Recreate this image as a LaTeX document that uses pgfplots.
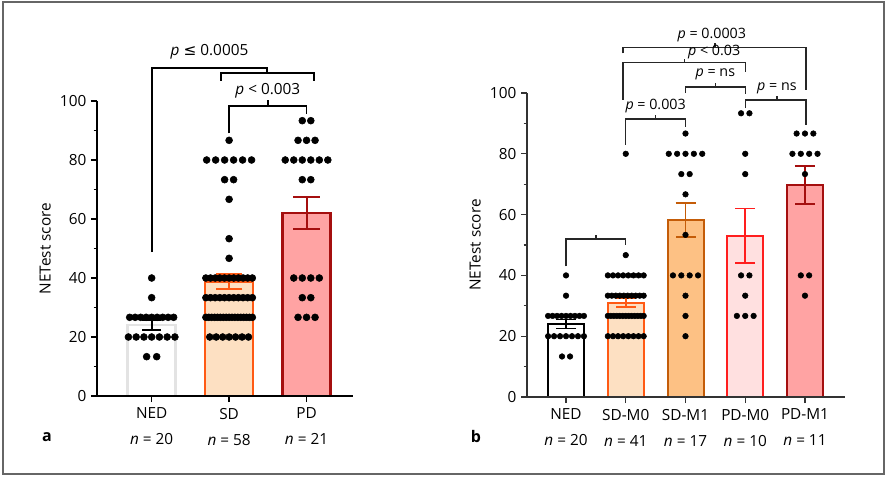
\documentclass[border=0pt]{standalone}
\usepackage{pgfplots}
\pgfplotsset{compat=1.18}
\usepackage{fontspec}
\setmainfont{Open Sans}
\newfontfamily\dejavu{DejaVu Sans}
\definecolor{sdfill}{HTML}{FDE0C2}
\definecolor{sdline}{HTML}{FF5A14}
\definecolor{pdfill}{HTML}{FFA3A3}
\definecolor{pdline}{HTML}{A50F0F}
\definecolor{nedline}{HTML}{E3E3E3}
\definecolor{smfill}{HTML}{FDC184}
\definecolor{smline}{HTML}{C45C08}
\definecolor{pmfill}{HTML}{FFE0E0}
\definecolor{pmline}{HTML}{FF1E1E}
\pgfplotsset{
  panel/.style={
    scale only axis, anchor=south west, clip=false, axis on top,
    axis lines*=left, ymin=0, ymax=100,
    ytick={0,20,...,100}, minor ytick={10,30,...,90},
    tick align=outside, major tick length=4.5pt, minor tick length=2.5pt,
    yticklabel style={font=\fontsize{11.5}{14}\selectfont},
    xticklabel style={align=center, font=\fontsize{11.5}{14}\selectfont, yshift=-1pt},
    ylabel={NETest score}, ylabel style={font=\fontsize{11.5}{14}\selectfont},
    /pgf/number format/assume math mode=true,
  },
}
\tikzset{ptext/.style={font=\fontsize{11.5}{14}\selectfont},
         ptextb/.style={font=\fontsize{10.7}{13}\selectfont}}
\begin{document}
\begin{tikzpicture}
\useasboundingbox (0,0) rectangle (666pt,357pt);
\draw[black!60, line width=1.1pt] (2.25pt,1.5pt) rectangle (663pt,355.5pt);
\node[font=\fontsize{12}{14}\selectfont\bfseries] at (35.25pt,29.5pt) {a};
\node[font=\fontsize{12}{14}\selectfont\bfseries] at (357pt,29.5pt) {b};
% ---------------- panel a ----------------
\begin{axis}[panel,
  at={(72.75pt,60pt)}, width=192pt, height=221.25pt,
  xmin=-0.706, xmax=2.6,
  xtick={0,1,2},
  xticklabels={{NED\\[5.5pt]\textit{n} = 20},{SD\\[5.5pt]\textit{n} = 58},{PD\\[5.5pt]\textit{n} = 21}},
  axis line style={line width=1.4pt, black},
  tick style={line width=1.2pt, black},
]
\addplot[ybar, bar width=36pt, bar shift=0pt, fill=white, draw=nedline, line width=1.8pt,
  error bars/.cd, y dir=both, y explicit,
  error bar style={line width=1.5pt, black},
  error mark options={rotate=90, mark size=7pt, line width=1.5pt, black}]
  coordinates {(0,24) +- (0,1.6)};
\addplot[ybar, bar width=36pt, bar shift=0pt, fill=sdfill, draw=sdline, line width=1.8pt,
  error bars/.cd, y dir=both, y explicit,
  error bar style={line width=1.5pt, sdline},
  error mark options={rotate=90, mark size=10pt, line width=1.5pt, sdline}]
  coordinates {(1,38.8) +- (0,2.5)};
\addplot[ybar, bar width=36pt, bar shift=0pt, fill=pdfill, draw=pdline, line width=1.8pt,
  error bars/.cd, y dir=both, y explicit,
  error bar style={line width=1.5pt, pdline},
  error mark options={rotate=90, mark size=10pt, line width=1.5pt, pdline}]
  coordinates {(2,62) +- (0,5.5)};
\addplot[only marks, mark=*, mark size=2.6pt, black] coordinates {
 (0,40) (0,33.33)
 (-0.284,26.67) (-0.213,26.67) (-0.142,26.67) (-0.071,26.67) (0,26.67) (0.071,26.67) (0.142,26.67) (0.213,26.67) (0.284,26.67)
 (-0.3,20) (-0.2,20) (-0.1,20) (0,20) (0.1,20) (0.2,20) (0.3,20)
 (-0.065,13.33) (0.065,13.33)
 (1,86.67)
 (0.71,80) (0.826,80) (0.942,80) (1.058,80) (1.174,80) (1.29,80)
 (0.942,73.33) (1.058,73.33)
 (1,66.67) (1,53.33) (1,46.67)
 (0.7,40) (0.76,40) (0.82,40) (0.88,40) (0.94,40) (1.0,40) (1.06,40) (1.12,40) (1.18,40) (1.24,40) (1.3,40)
 (0.7,33.33) (0.76,33.33) (0.82,33.33) (0.88,33.33) (0.94,33.33) (1.0,33.33) (1.06,33.33) (1.12,33.33) (1.18,33.33) (1.24,33.33) (1.3,33.33)
 (0.7,26.67) (0.7375,26.67) (0.775,26.67) (0.8125,26.67) (0.85,26.67) (0.8875,26.67) (0.925,26.67) (0.9625,26.67) (1.0,26.67) (1.0375,26.67) (1.075,26.67) (1.1125,26.67) (1.15,26.67) (1.1875,26.67) (1.225,26.67) (1.2625,26.67) (1.3,26.67)
 (0.75,20) (0.833,20) (0.917,20) (1,20) (1.083,20) (1.167,20) (1.25,20)
 (1.945,93.33) (2.055,93.33)
 (1.89,86.67) (2,86.67) (2.11,86.67)
 (1.725,80) (1.835,80) (1.945,80) (2.055,80) (2.165,80) (2.275,80)
 (1.945,73.33) (2.055,73.33)
 (1.835,40) (1.945,40) (2.055,40) (2.165,40)
 (1.945,33.33) (2.055,33.33)
 (1.89,26.67) (2,26.67) (2.11,26.67)
};
\draw[line width=1.4pt] (axis cs:0,48.8) |- (axis cs:1.494,111.3) -- (axis cs:1.494,109.5);
\draw[line width=1.4pt] (axis cs:0.894,106.8) |- (axis cs:2.094,109.5) -- (axis cs:2.094,106.8);
\draw[line width=1.4pt] (axis cs:1,89) |- (axis cs:2,98.3) -- (axis cs:2,95.6);
\draw[line width=1.4pt] (axis cs:1.5,98.3) -- (axis cs:1.5,100.3);
\node[ptext] at (axis cs:0.747,116.6) {\textit{p} {\dejavu ≤} 0.0005};
\node[ptext] at (axis cs:1.5,103.6) {\textit{p} < 0.003};
\end{axis}
% ---------------- panel b ----------------
\begin{axis}[panel,
  at={(395.25pt,59.25pt)}, width=238.5pt, height=228pt,
  xmin=-0.653, xmax=4.67,
  xtick={0,1,2,3,4},
  xticklabels={{NED\\[5.5pt]\textit{n} = 20},{SD-M0\\[5.5pt]\textit{n} = 41},{SD-M1\\[5.5pt]\textit{n} = 17},{PD-M0\\[5.5pt]\textit{n} = 10},{PD-M1\\[5.5pt]\textit{n} = 11}},
  axis line style={line width=1.1pt, black!80},
  tick style={line width=1pt, black!80},
]
\addplot[ybar, bar width=27pt, bar shift=0pt, fill=white, draw=black, line width=1.5pt,
  error bars/.cd, y dir=both, y explicit,
  error bar style={line width=1.3pt, black},
  error mark options={rotate=90, mark size=7.5pt, line width=1.3pt, black}]
  coordinates {(0,24) +- (0,1.5)};
\addplot[ybar, bar width=27pt, bar shift=0pt, fill=sdfill, draw=sdline, line width=1.5pt,
  error bars/.cd, y dir=both, y explicit,
  error bar style={line width=1.3pt, sdline},
  error mark options={rotate=90, mark size=7.5pt, line width=1.3pt, sdline}]
  coordinates {(1,31) +- (0,1.5)};
\addplot[ybar, bar width=27pt, bar shift=0pt, fill=smfill, draw=smline, line width=1.5pt,
  error bars/.cd, y dir=both, y explicit,
  error bar style={line width=1.3pt, smline},
  error mark options={rotate=90, mark size=7.5pt, line width=1.3pt, smline}]
  coordinates {(2,58.3) +- (0,5.6)};
\addplot[ybar, bar width=27pt, bar shift=0pt, fill=pmfill, draw=pmline, line width=1.5pt,
  error bars/.cd, y dir=both, y explicit,
  error bar style={line width=1.3pt, pmline},
  error mark options={rotate=90, mark size=7.5pt, line width=1.3pt, pmline}]
  coordinates {(3,53) +- (0,9)};
\addplot[ybar, bar width=27pt, bar shift=0pt, fill=pdfill, draw=pdline, line width=1.5pt,
  error bars/.cd, y dir=both, y explicit,
  error bar style={line width=1.3pt, pdline},
  error mark options={rotate=90, mark size=7.5pt, line width=1.3pt, pdline}]
  coordinates {(4,69.7) +- (0,6.3)};
\addplot[only marks, mark=*, mark size=2.1pt, black] coordinates {
 (0,40) (0,33.33)
 (-0.3,26.67) (-0.225,26.67) (-0.15,26.67) (-0.075,26.67) (0,26.67) (0.075,26.67) (0.15,26.67) (0.225,26.67) (0.3,26.67)
 (-0.3,20) (-0.2,20) (-0.1,20) (0,20) (0.1,20) (0.2,20) (0.3,20)
 (-0.067,13.33) (0.067,13.33)
 (1,80) (1,46.67)
 (0.7,40) (0.786,40) (0.871,40) (0.957,40) (1.043,40) (1.129,40) (1.214,40) (1.3,40)
 (0.7,33.33) (0.767,33.33) (0.833,33.33) (0.9,33.33) (0.967,33.33) (1.033,33.33) (1.1,33.33) (1.167,33.33) (1.233,33.33) (1.3,33.33)
 (0.7,26.67) (0.75,26.67) (0.8,26.67) (0.85,26.67) (0.9,26.67) (0.95,26.67) (1.0,26.67) (1.05,26.67) (1.1,26.67) (1.15,26.67) (1.2,26.67) (1.25,26.67) (1.3,26.67)
 (0.7,20) (0.786,20) (0.871,20) (0.957,20) (1.043,20) (1.129,20) (1.214,20) (1.3,20)
 (2,86.67)
 (1.72,80) (1.86,80) (2,80) (2.14,80) (2.28,80)
 (1.93,73.33) (2.07,73.33)
 (2,66.67) (2,53.33)
 (1.79,40) (1.93,40) (2.07,40) (2.21,40)
 (2,33.33) (2,26.67) (2,20)
 (2.93,93.33) (3.07,93.33)
 (3,80) (3,73.33)
 (2.93,40) (3.07,40)
 (3,33.33)
 (2.86,26.67) (3,26.67) (3.14,26.67)
 (3.86,86.67) (4,86.67) (4.14,86.67)
 (3.79,80) (3.93,80) (4.07,80) (4.21,80)
 (4,73.33)
 (3.93,40) (4.07,40)
 (4,33.33)
};
\begin{scope}[line width=1.1pt, black!85]
\draw (axis cs:0,43) |- (axis cs:1,52) -- (axis cs:1,50);
\draw (axis cs:0.5,52) -- (axis cs:0.5,53.3);
\draw (axis cs:1,82.9) |- (axis cs:2,91.4) -- (axis cs:2,88.8);
\draw (axis cs:1.5,91.4) -- (axis cs:1.5,92.7);
\draw (axis cs:2,100) |- (axis cs:3,102) -- (axis cs:3,99.7);
\draw (axis cs:2.5,102) -- (axis cs:2.5,103.3);
\draw (axis cs:0.954,97.7) |- (axis cs:3,110) -- (axis cs:3,107);
\draw (axis cs:1.98,110) -- (axis cs:1.98,111.3);
\draw (axis cs:0.954,113) |- (axis cs:4.02,115) -- (axis cs:4.02,101);
\draw (axis cs:2.49,115) -- (axis cs:2.49,116.3);
\draw (axis cs:3,95) |- (axis cs:4.02,97.7) -- (axis cs:4.02,89.5);
\draw (axis cs:3.53,97.7) -- (axis cs:3.53,99);
\end{scope}
\node[ptextb] at (axis cs:1.5,95.6) {\textit{p} = 0.003};
\node[ptextb] at (axis cs:2.5,106.2) {\textit{p} = ns};
\node[ptextb] at (axis cs:2.48,113.4) {\textit{p} < 0.03};
\node[ptextb] at (axis cs:2.44,119.2) {\textit{p} = 0.0003};
\node[ptextb] at (axis cs:3.53,101.5) {\textit{p} = ns};
\end{axis}
\end{tikzpicture}
\end{document}
